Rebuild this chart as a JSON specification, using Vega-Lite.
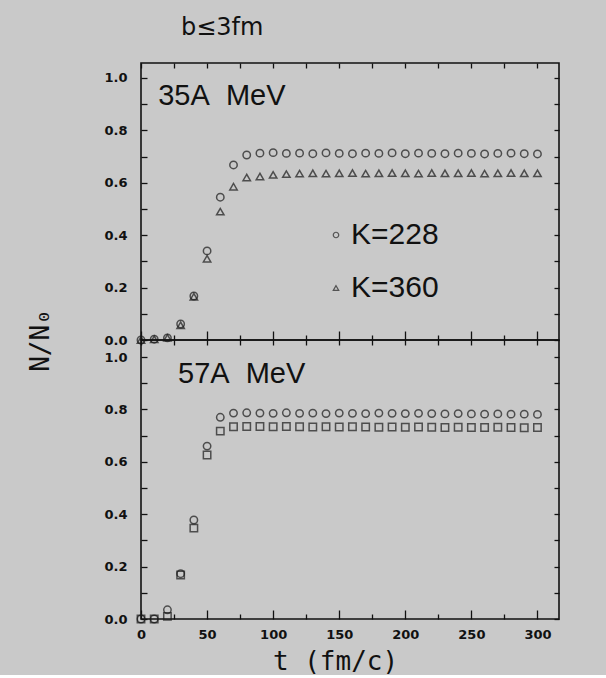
{
  "$schema": "https://vega.github.io/schema/vega-lite/v6.json",
  "background": "#c9c9c9",
  "padding": {"left": 26, "top": 15, "right": 46, "bottom": 0},
  "datasets": {
    "top": [
      {"t": 0, "K": "K=228", "v": 0.0}, {"t": 10, "K": "K=228", "v": 0.003}, {"t": 20, "K": "K=228", "v": 0.008},
      {"t": 30, "K": "K=228", "v": 0.061}, {"t": 40, "K": "K=228", "v": 0.168}, {"t": 50, "K": "K=228", "v": 0.34},
      {"t": 60, "K": "K=228", "v": 0.545}, {"t": 70, "K": "K=228", "v": 0.668}, {"t": 80, "K": "K=228", "v": 0.706},
      {"t": 90, "K": "K=228", "v": 0.713}, {"t": 100, "K": "K=228", "v": 0.715}, {"t": 110, "K": "K=228", "v": 0.712},
      {"t": 120, "K": "K=228", "v": 0.713}, {"t": 130, "K": "K=228", "v": 0.711}, {"t": 140, "K": "K=228", "v": 0.714},
      {"t": 150, "K": "K=228", "v": 0.712}, {"t": 160, "K": "K=228", "v": 0.711}, {"t": 170, "K": "K=228", "v": 0.713},
      {"t": 180, "K": "K=228", "v": 0.712}, {"t": 190, "K": "K=228", "v": 0.714}, {"t": 200, "K": "K=228", "v": 0.711},
      {"t": 210, "K": "K=228", "v": 0.713}, {"t": 220, "K": "K=228", "v": 0.712}, {"t": 230, "K": "K=228", "v": 0.711},
      {"t": 240, "K": "K=228", "v": 0.713}, {"t": 250, "K": "K=228", "v": 0.712}, {"t": 260, "K": "K=228", "v": 0.71},
      {"t": 270, "K": "K=228", "v": 0.712}, {"t": 280, "K": "K=228", "v": 0.713}, {"t": 290, "K": "K=228", "v": 0.711},
      {"t": 300, "K": "K=228", "v": 0.71},
      {"t": 0, "K": "K=360", "v": 0.0}, {"t": 10, "K": "K=360", "v": 0.003}, {"t": 20, "K": "K=360", "v": 0.008},
      {"t": 30, "K": "K=360", "v": 0.056}, {"t": 40, "K": "K=360", "v": 0.165}, {"t": 50, "K": "K=360", "v": 0.31},
      {"t": 60, "K": "K=360", "v": 0.49}, {"t": 70, "K": "K=360", "v": 0.585}, {"t": 80, "K": "K=360", "v": 0.62},
      {"t": 90, "K": "K=360", "v": 0.624}, {"t": 100, "K": "K=360", "v": 0.63}, {"t": 110, "K": "K=360", "v": 0.633},
      {"t": 120, "K": "K=360", "v": 0.635}, {"t": 130, "K": "K=360", "v": 0.636}, {"t": 140, "K": "K=360", "v": 0.635},
      {"t": 150, "K": "K=360", "v": 0.636}, {"t": 160, "K": "K=360", "v": 0.637}, {"t": 170, "K": "K=360", "v": 0.635},
      {"t": 180, "K": "K=360", "v": 0.636}, {"t": 190, "K": "K=360", "v": 0.637}, {"t": 200, "K": "K=360", "v": 0.636},
      {"t": 210, "K": "K=360", "v": 0.635}, {"t": 220, "K": "K=360", "v": 0.637}, {"t": 230, "K": "K=360", "v": 0.636},
      {"t": 240, "K": "K=360", "v": 0.636}, {"t": 250, "K": "K=360", "v": 0.637}, {"t": 260, "K": "K=360", "v": 0.635},
      {"t": 270, "K": "K=360", "v": 0.636}, {"t": 280, "K": "K=360", "v": 0.637}, {"t": 290, "K": "K=360", "v": 0.636},
      {"t": 300, "K": "K=360", "v": 0.636}
    ],
    "bottom": [
      {"t": 0, "K": "K=228", "v": 0.0}, {"t": 10, "K": "K=228", "v": 0.0}, {"t": 20, "K": "K=228", "v": 0.035},
      {"t": 30, "K": "K=228", "v": 0.173}, {"t": 40, "K": "K=228", "v": 0.378}, {"t": 50, "K": "K=228", "v": 0.66},
      {"t": 60, "K": "K=228", "v": 0.77}, {"t": 70, "K": "K=228", "v": 0.786}, {"t": 80, "K": "K=228", "v": 0.787},
      {"t": 90, "K": "K=228", "v": 0.786}, {"t": 100, "K": "K=228", "v": 0.785}, {"t": 110, "K": "K=228", "v": 0.787},
      {"t": 120, "K": "K=228", "v": 0.785}, {"t": 130, "K": "K=228", "v": 0.786}, {"t": 140, "K": "K=228", "v": 0.784},
      {"t": 150, "K": "K=228", "v": 0.786}, {"t": 160, "K": "K=228", "v": 0.785}, {"t": 170, "K": "K=228", "v": 0.784},
      {"t": 180, "K": "K=228", "v": 0.786}, {"t": 190, "K": "K=228", "v": 0.785}, {"t": 200, "K": "K=228", "v": 0.784},
      {"t": 210, "K": "K=228", "v": 0.785}, {"t": 220, "K": "K=228", "v": 0.784}, {"t": 230, "K": "K=228", "v": 0.783},
      {"t": 240, "K": "K=228", "v": 0.784}, {"t": 250, "K": "K=228", "v": 0.783}, {"t": 260, "K": "K=228", "v": 0.782},
      {"t": 270, "K": "K=228", "v": 0.783}, {"t": 280, "K": "K=228", "v": 0.782}, {"t": 290, "K": "K=228", "v": 0.782},
      {"t": 300, "K": "K=228", "v": 0.781},
      {"t": 0, "K": "K=360", "v": 0.0}, {"t": 10, "K": "K=360", "v": 0.0}, {"t": 20, "K": "K=360", "v": 0.01},
      {"t": 30, "K": "K=360", "v": 0.168}, {"t": 40, "K": "K=360", "v": 0.347}, {"t": 50, "K": "K=360", "v": 0.626},
      {"t": 60, "K": "K=360", "v": 0.717}, {"t": 70, "K": "K=360", "v": 0.734}, {"t": 80, "K": "K=360", "v": 0.735},
      {"t": 90, "K": "K=360", "v": 0.735}, {"t": 100, "K": "K=360", "v": 0.734}, {"t": 110, "K": "K=360", "v": 0.735},
      {"t": 120, "K": "K=360", "v": 0.734}, {"t": 130, "K": "K=360", "v": 0.733}, {"t": 140, "K": "K=360", "v": 0.734},
      {"t": 150, "K": "K=360", "v": 0.733}, {"t": 160, "K": "K=360", "v": 0.734}, {"t": 170, "K": "K=360", "v": 0.733},
      {"t": 180, "K": "K=360", "v": 0.732}, {"t": 190, "K": "K=360", "v": 0.733}, {"t": 200, "K": "K=360", "v": 0.732},
      {"t": 210, "K": "K=360", "v": 0.733}, {"t": 220, "K": "K=360", "v": 0.732}, {"t": 230, "K": "K=360", "v": 0.731},
      {"t": 240, "K": "K=360", "v": 0.732}, {"t": 250, "K": "K=360", "v": 0.731}, {"t": 260, "K": "K=360", "v": 0.731},
      {"t": 270, "K": "K=360", "v": 0.732}, {"t": 280, "K": "K=360", "v": 0.731}, {"t": 290, "K": "K=360", "v": 0.73},
      {"t": 300, "K": "K=360", "v": 0.731}
    ]
  },
  "config": {
    "view": {"stroke": "#111", "strokeWidth": 1.6},
    "axis": {
      "grid": false, "domain": false,
      "tickColor": "#111", "tickWidth": 1.3,
      "labelFont": "DejaVu Sans", "labelFontSize": 13, "labelFontWeight": "bold", "labelColor": "#111",
      "titleFont": "DejaVu Sans Mono", "titleFontWeight": "normal", "titleFontSize": 26, "titleColor": "#111",
      "labelFlush": false, "labelOverlap": false
    },
    "title": {"font": "DejaVu Sans", "fontWeight": "normal", "color": "#111"}
  },
  "spacing": 0,
  "bounds": "flush",
  "vconcat": [
    {
      "width": 418, "height": 277,
      "title": {"text": "b≤3fm", "anchor": "start", "frame": "group", "dx": 40, "fontSize": 24, "offset": 22},
      "data": {"name": "top"},
      "layer": [
        {
          "mark": {"type": "point", "filled": false, "size": 55, "stroke": "#1a1a1a", "strokeWidth": 1.5},
          "encoding": {
            "x": {"field": "t", "type": "quantitative", "scale": {"domain": [0, 316.3], "nice": false, "zero": false},
              "axis": {"orient": "bottom", "values": [0,25,50,75,100,125,150,175,200,225,250,275,300], "labels": false, "title": null,
                "tickSize": {"condition": {"test": "datum.value % 50 === 0", "value": -9}, "value": -5}}},
            "y": {"field": "v", "type": "quantitative", "scale": {"domain": [0, 1.057], "nice": false, "zero": false},
              "axis": {"orient": "left", "values": [0,0.1,0.2,0.3,0.4,0.5,0.6,0.7,0.8,0.9,1.0], "format": ".1f",
                "labelExpr": "round(datum.value*10) % 2 === 0 ? datum.label : ''",
                "tickSize": -6, "labelPadding": 20,
                "title": "N/N₀", "titleX": -88, "titleY": 277, "titleAngle": -90, "titleBaseline": "bottom", "titleAlign": "center"}},
            "shape": {"field": "K", "type": "nominal",
              "scale": {"domain": ["K=228", "K=360"], "range": ["circle", "triangle-up"]},
              "legend": {"orient": "none", "legendX": 180, "legendY": 157, "title": null, "padding": 0,
                "labelFont": "Liberation Sans", "labelFontSize": 30, "labelColor": "#111", "labelOffset": 0,
                "symbolSize": 30, "symbolStrokeWidth": 1.2, "symbolStrokeColor": "#222", "symbolFillColor": "transparent", "rowPadding": 23}}
          }
        },
        {
          "mark": {"type": "point", "opacity": 0},
          "encoding": {
            "x": {"field": "t", "type": "quantitative",
              "axis": {"orient": "top", "values": [0,25,50,75,100,125,150,175,200,225,250,275,300], "labels": false, "title": null, "tickSize": -5}},
            "y": {"field": "v", "type": "quantitative",
              "axis": {"orient": "right", "values": [0,0.1,0.2,0.3,0.4,0.5,0.6,0.7,0.8,0.9,1.0], "labels": false, "title": null, "tickSize": -5}}
          }
        },
        {
          "data": {"values": [{"label": "35A\u00a0\u00a0MeV"}]},
          "mark": {"type": "text", "align": "left", "baseline": "alphabetic", "font": "Liberation Sans", "fontSize": 29, "color": "#111"},
          "encoding": {
            "x": {"datum": 13, "type": "quantitative", "axis": null},
            "y": {"datum": 0.897, "type": "quantitative", "axis": null},
            "text": {"field": "label"}
          }
        }
      ],
      "resolve": {"axis": {"x": "independent", "y": "independent"}}
    },
    {
      "width": 418, "height": 279,
      "data": {"name": "bottom"},
      "layer": [
        {
          "mark": {"type": "point", "filled": false, "size": 55, "stroke": "#1a1a1a", "strokeWidth": 1.5},
          "encoding": {
            "x": {"field": "t", "type": "quantitative", "scale": {"domain": [0, 316.3], "nice": false, "zero": false},
              "axis": {"orient": "bottom", "values": [0,25,50,75,100,125,150,175,200,225,250,275,300],
                "labelExpr": "datum.value % 50 === 0 ? datum.label : ''", "labelPadding": 18,
                "tickSize": {"condition": {"test": "datum.value % 50 === 0", "value": -9}, "value": -5},
                "title": "t (fm/c)", "titleX": 194, "titlePadding": 3}},
            "y": {"field": "v", "type": "quantitative", "scale": {"domain": [0, 1.065], "nice": false, "zero": false},
              "axis": {"orient": "left", "values": [0,0.1,0.2,0.3,0.4,0.5,0.6,0.7,0.8,0.9,1.0], "format": ".1f",
                "labelExpr": "round(datum.value*10) % 2 === 0 ? datum.label : ''",
                "tickSize": -6, "labelPadding": 20, "title": null}},
            "shape": {"field": "K", "type": "nominal",
              "scale": {"domain": ["K=228", "K=360"], "range": ["circle", "square"]}, "legend": null}
          }
        },
        {
          "mark": {"type": "point", "opacity": 0},
          "encoding": {
            "x": {"field": "t", "type": "quantitative",
              "axis": {"orient": "top", "values": [0,25,50,75,100,125,150,175,200,225,250,275,300], "labels": false, "title": null, "tickSize": -5}},
            "y": {"field": "v", "type": "quantitative",
              "axis": {"orient": "right", "values": [0,0.1,0.2,0.3,0.4,0.5,0.6,0.7,0.8,0.9,1.0], "labels": false, "title": null, "tickSize": -5}}
          }
        },
        {
          "data": {"values": [{"label": "57A\u00a0\u00a0MeV"}]},
          "mark": {"type": "text", "align": "left", "baseline": "alphabetic", "font": "Liberation Sans", "fontSize": 29, "color": "#111"},
          "encoding": {
            "x": {"datum": 28, "type": "quantitative", "axis": null},
            "y": {"datum": 0.9, "type": "quantitative", "axis": null},
            "text": {"field": "label"}
          }
        }
      ],
      "resolve": {"axis": {"x": "independent", "y": "independent"}}
    }
  ],
  "resolve": {"scale": {"shape": "independent"}, "legend": {"shape": "independent"}}
}
